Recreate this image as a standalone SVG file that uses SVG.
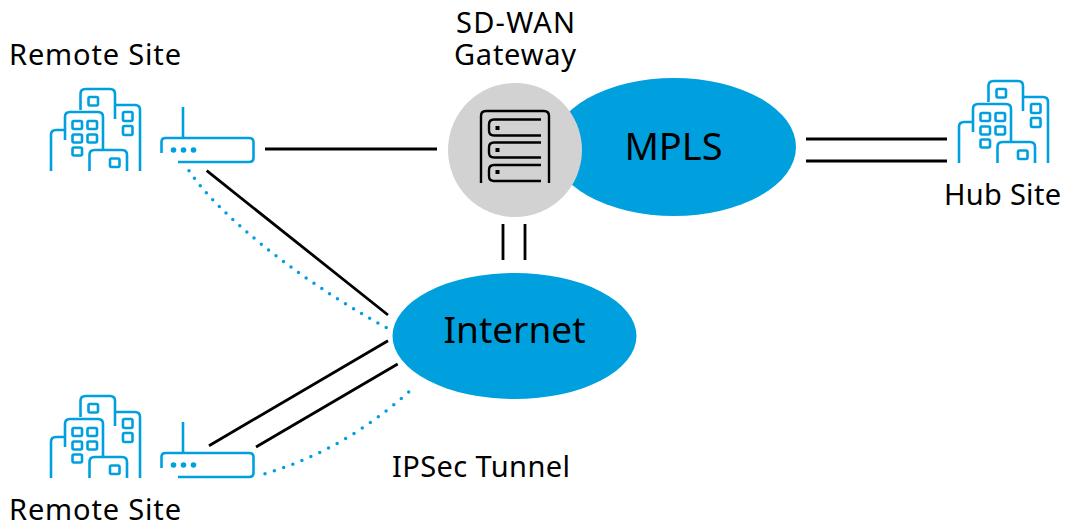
<svg xmlns="http://www.w3.org/2000/svg" width="1065" height="525" viewBox="0 0 1065 525">
<style>
text{font-family:"Noto Sans","Open Sans","Liberation Sans",sans-serif;fill:#000}
.l{font-size:29px}
.b{font-size:38px}
.m{text-anchor:middle}
.ic{fill:none;stroke:#00a0df;stroke-width:2.6;stroke-linejoin:round}
.sv{fill:none;stroke:#000;stroke-width:2.4}
.c{fill:none;stroke:#000;stroke-width:2.8}
.d{fill:none;stroke:#00a0df;stroke-width:3.5;stroke-linecap:round}
.cl{fill:#00a0df}
</style>
<defs>
<g id="bld" class="ic">
<path d="M80.500 110V94Q80.500 89 85.500 89H110Q115 89 115 94V119"/>
<path d="M115 105H135Q140 105 140 110V171"/>
<path d="M65 140V117Q65 112 70 112H98Q103 112 103 117V150"/>
<path d="M51 171V135Q51 130 56 130H65"/>
<path d="M89.500 171V155Q89.500 150 94.500 150H122Q127 150 127 155V171"/>
<rect x="88.500" y="97" width="9.500" height="8.500" rx="1.500"/>
<rect x="72.500" y="121" width="9.500" height="8" rx="1.500"/>
<rect x="87.500" y="121" width="9.500" height="8" rx="1.500"/>
<rect x="72.500" y="134.500" width="9.500" height="8" rx="1.500"/>
<rect x="87.500" y="134.500" width="9.500" height="8" rx="1.500"/>
<rect x="72.500" y="147.500" width="9.500" height="8" rx="1.500"/>
<rect x="123" y="112" width="9.500" height="9" rx="1.500"/>
<rect x="123" y="126" width="9.500" height="9" rx="1.500"/>
<rect x="110" y="158.500" width="9.500" height="8.500" rx="1.500"/>
</g>
<g id="rtr">
<path class="ic" d="M183 107V138M161.500 153V142Q161.500 138 165.500 138H249Q253.500 138 253.500 142V158Q253.500 162 249 162H178"/>
<circle class="cl" cx="173.500" cy="150" r="2.800"/>
<circle class="cl" cx="183.500" cy="150" r="2.800"/>
<circle class="cl" cx="193.500" cy="150" r="2.800"/>
</g>
</defs>
<g id="connectors">
<path class="c" d="M265 149H437M806 139H947M806 161H947M503 224V260M525 224V260M206.700 170.700L388 315M209 445.700L388 340.700M256 447L397.700 364"/>
<path class="d" stroke-dasharray="0 9.400" d="M189 170.700C215 210 290 275 387 328"/>
<path class="d" stroke-dasharray="0 9.800" d="M265 473.700Q345 450 411 390"/>
</g>
<g id="mpls">
<ellipse class="cl" cx="674" cy="147" rx="122" ry="69"/>
<text class="b m" x="673.500" y="160">MPLS</text>
</g>
<g id="internet">
<ellipse class="cl" cx="514.500" cy="336" rx="122" ry="63"/>
<text class="b m" x="514.500" y="343" style="font-size:37px">Internet</text>
</g>
<g id="gateway">
<circle cx="515" cy="150" r="67" fill="#d2d2d2"/>
<path class="sv" d="M481 183V116Q481 111 486 111H544Q549 111 549 116V183"/>
<path class="sv" d="M541 119.500H494Q489 119.500 489 124.500V130.500Q489 135.500 494 135.500H541"/>
<path class="sv" d="M541 142.500H494Q489 142.500 489 147.500V152.500Q489 157.500 494 157.500H541"/>
<path class="sv" d="M541 165H494Q489 165 489 170V176Q489 181 494 181H541"/>
<rect x="495.500" y="126" width="4" height="4"/>
<rect x="495.500" y="148" width="4" height="4"/>
<rect x="495.500" y="170" width="4" height="4"/>
<text class="l" x="456" y="33" textLength="119">SD-WAN</text>
<text class="l" x="454" y="65" textLength="122">Gateway</text>
</g>
<g id="remote-site-1">
<use href="#bld"/>
<use href="#rtr"/>
<text class="l" x="9" y="65" textLength="172">Remote Site</text>
</g>
<g id="remote-site-2">
<use href="#bld" y="307"/>
<use href="#rtr" y="315"/>
<text class="l" x="9" y="520" textLength="172">Remote Site</text>
</g>
<g id="hub-site">
<use href="#bld" x="908" y="-8"/>
<text class="l" x="944" y="205" textLength="117">Hub Site</text>
</g>
<text id="ipsec-label" class="l" x="392" y="477" textLength="178">IPSec Tunnel</text>
</svg>
